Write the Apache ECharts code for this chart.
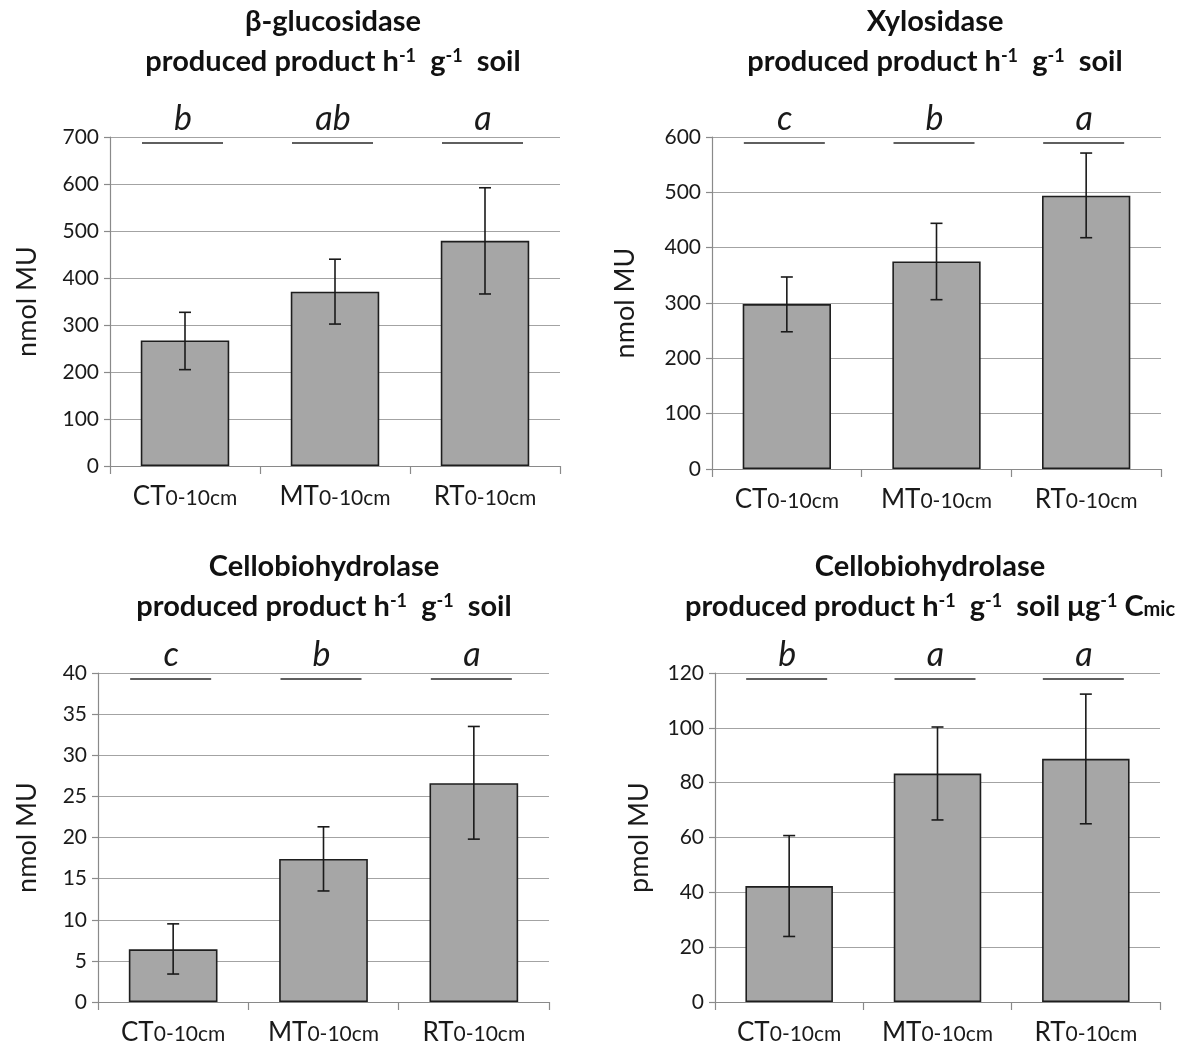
<!DOCTYPE html>
<html><head><meta charset="utf-8">
<script src="https://cdn.jsdelivr.net/npm/echarts@6/dist/echarts.min.js"></script>
<style>html,body{margin:0;padding:0;background:#fff}#c{width:1193px;height:1046px}</style>
</head><body><div id="c"></div><script>
// ---- data ----
const categories = ['CT', 'MT', 'RT'];
const depthLabel = '0-10cm';

// Panel 1: beta-glucosidase (nmol MU)
const glucMean = [267, 371, 479];
const glucLow  = [205, 302, 366];
const glucHigh = [327, 440, 592];
const glucLetters = ['b', 'ab', 'a'];
const glucAxis = [0, 700, 100];

// Panel 2: xylosidase (nmol MU)
const xylMean = [298, 375, 494];
const xylLow  = [248, 306, 418];
const xylHigh = [347, 444, 571];
const xylLetters = ['c', 'b', 'a'];
const xylAxis = [0, 600, 100];

// Panel 3: cellobiohydrolase per g soil (nmol MU)
const cbhMean = [6.4, 17.4, 26.6];
const cbhLow  = [3.4, 13.5, 19.8];
const cbhHigh = [9.5, 21.3, 33.5];
const cbhLetters = ['c', 'b', 'a'];
const cbhAxis = [0, 40, 5];

// Panel 4: cellobiohydrolase per ug Cmic (pmol MU)
const cbhMicMean = [42.3, 83.3, 88.7];
const cbhMicLow  = [23.9, 66.4, 65.0];
const cbhMicHigh = [60.7, 100.3, 112.3];
const cbhMicLetters = ['b', 'a', 'a'];
const cbhMicAxis = [0, 120, 20];

const yNames = ['nmol MU', 'nmol MU', 'nmol MU', 'pmol MU'];

// ---- layout / styles ----
const FONT = 'Lato, "Open Sans", sans-serif';
const grids = [
  {left: 110, top: 137, width: 450, height: 329},
  {left: 712, top: 137, width: 449, height: 332},
  {left: 98,  top: 673, width: 451, height: 329},
  {left: 715, top: 673, width: 445, height: 330}
];
const nameGaps = [69, 73, 57, 62];

const titleRich = {
  t: {fontSize: 29, fontWeight: 'bold', fontFamily: FONT, color: '#111', lineHeight: 40},
  s: {fontSize: 18, fontWeight: 'bold', fontFamily: FONT, color: '#111', verticalAlign: 'top', padding: [5, 0, 0, 0]},
  m: {fontSize: 20, fontWeight: 'bold', fontFamily: FONT, color: '#111', padding: [6, 0, 0, 0]}
};
const line2 = '{t|produced product h}{s|-1}{t|  g}{s|-1}{t|  soil}';
const titles = [
  {x: 333, text: '{t|β-glucosidase}\n' + line2, top: 2},
  {x: 935, text: '{t|Xylosidase}\n' + line2, top: 2},
  {x: 324, text: '{t|Cellobiohydrolase}\n' + line2, top: 547},
  {x: 930, text: '{t|Cellobiohydrolase}\n' + line2 + '{t| μg}{s|-1}{t| C}{m|mic}', top: 547}
];

const panels = [
  {mean: glucMean, low: glucLow, high: glucHigh, letters: glucLetters, axis: glucAxis},
  {mean: xylMean, low: xylLow, high: xylHigh, letters: xylLetters, axis: xylAxis},
  {mean: cbhMean, low: cbhLow, high: cbhHigh, letters: cbhLetters, axis: cbhAxis},
  {mean: cbhMicMean, low: cbhMicLow, high: cbhMicHigh, letters: cbhMicLetters, axis: cbhMicAxis}
];

function errRender(params, api) {
  const x = api.value(0), lo = api.value(1), hi = api.value(2);
  const pLo = api.coord([x, lo]), pHi = api.coord([x, hi]);
  const cx = pLo[0];
  const w = 6;
  const style = {stroke: '#1a1a1a', lineWidth: 1.6};
  return {type: 'group', children: [
    {type: 'line', shape: {x1: cx, y1: pLo[1], x2: cx, y2: pHi[1]}, style: style},
    {type: 'line', shape: {x1: cx - w, y1: pLo[1], x2: cx + w, y2: pLo[1]}, style: style},
    {type: 'line', shape: {x1: cx - w, y1: pHi[1], x2: cx + w, y2: pHi[1]}, style: style}
  ]};
}
function makeSigRender(letters) {
  return function (params, api) {
    const p = api.coord([api.value(0), api.value(1)]);
    return {type: 'group', children: [
      {type: 'line', shape: {x1: p[0] - 43, y1: p[1] + 6, x2: p[0] + 38, y2: p[1] + 6},
       style: {stroke: '#2a2a2a', lineWidth: 1.6}},
      {type: 'text', x: p[0] - 2, y: p[1] - 1,
       style: {text: letters[params.dataIndex], align: 'center', verticalAlign: 'bottom',
               fontSize: 34, fontStyle: 'italic', fontFamily: FONT, fill: '#1a1a1a'}}
    ]};
  };
}

const option = {
  backgroundColor: '#fff',
  animation: false,
  title: titles.map(t => ({
    text: t.text, left: t.x, top: t.top, textAlign: 'center', padding: 0,
    textStyle: {rich: titleRich}
  })),
  grid: grids,
  xAxis: grids.map((g, i) => ({
    type: 'category', gridIndex: i, data: categories,
    axisLine: {lineStyle: {color: '#8a8a8a', width: 1.2}},
    axisTick: {show: true, length: 8, lineStyle: {color: '#8a8a8a', width: 1.2}},
    axisLabel: {
      margin: 16, interval: 0,
      formatter: v => '{a|' + v + '}{b|' + depthLabel + '}',
      rich: {
        a: {fontSize: 26, fontFamily: FONT, color: '#1a1a1a', lineHeight: 30},
        b: {fontSize: 21, fontFamily: FONT, color: '#1a1a1a', padding: [3, 0, 0, 0]}
      }
    }
  })),
  yAxis: grids.map((g, i) => ({
    type: 'value', gridIndex: i,
    min: panels[i].axis[0], max: panels[i].axis[1], interval: panels[i].axis[2],
    name: yNames[i], nameLocation: 'middle', nameRotate: 90, nameGap: nameGaps[i],
    nameTextStyle: {fontSize: 27, fontFamily: FONT, color: '#1a1a1a'},
    axisLine: {show: true, lineStyle: {color: '#8a8a8a', width: 1.2}},
    axisTick: {show: true, length: 6, lineStyle: {color: '#8a8a8a', width: 1.2}},
    axisLabel: {fontSize: 21, fontFamily: FONT, color: '#1a1a1a', margin: 11},
    splitLine: {show: true, lineStyle: {color: '#a3a3a3', width: 1.2}}
  })),
  series: panels.flatMap((p, i) => [
    {
      type: 'bar', xAxisIndex: i, yAxisIndex: i, data: p.mean,
      barCategoryGap: '41%',
      itemStyle: {color: '#a6a6a6', borderColor: '#1e1e1e', borderWidth: 1.6}
    },
    {
      type: 'custom', xAxisIndex: i, yAxisIndex: i, renderItem: errRender, z: 5,
      data: p.mean.map((m, k) => [k, p.low[k], p.high[k]])
    },
    {
      type: 'custom', xAxisIndex: i, yAxisIndex: i, renderItem: makeSigRender(p.letters), z: 5,
      data: p.letters.map((l, k) => [k, p.axis[1]])
    }
  ])
};

const chart = echarts.init(document.getElementById('c'), null, {renderer: 'canvas'});
chart.setOption(option);
</script></body></html>
